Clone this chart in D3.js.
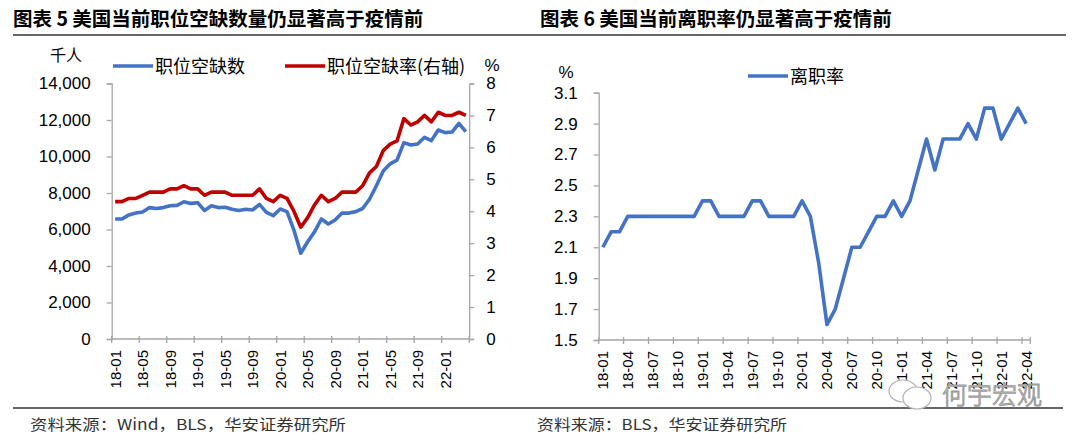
<!DOCTYPE html>
<html>
<head>
<meta charset="utf-8">
<script src="https://cdn.jsdelivr.net/npm/d3@7"></script>
<style>
  body { margin: 0; background: #fff; }
  svg { display: block; }
  .tick text { font-family: "Liberation Sans", Arial, sans-serif; fill: #000; }
</style>
</head>
<body>
<div class="chart"></div>
<script>
// months 18-01 .. 22-04
let months = [];
for (let y = 18; y <= 22; y++) {
    for (let m = 1; m <= 12; m++) {
        if (y == 22 && m > 4) break;
        months.push(y + "-" + String(m).padStart(2, "0"));
    }
}

// job openings, thousands (left axis)
const openings = [6575, 6575, 6800, 6900, 6960, 7200, 7150, 7200, 7300, 7320,
    7520, 7430, 7470, 7040, 7300, 7200, 7220, 7110, 7040, 7110,
    7070, 7380, 6940, 6760, 7120, 6980, 5970, 4700, 5330, 5870,
    6575, 6300, 6520, 6900, 6900, 6980, 7150, 7660, 8400, 9200,
    9600, 9800, 10760, 10630, 10680, 11050, 10870, 11450, 11310, 11340,
    11820, 11360];

// job openings rate, % (right axis)
const openingsRate = [4.3, 4.3, 4.4, 4.4, 4.5, 4.6, 4.6, 4.6, 4.7, 4.7,
    4.8, 4.7, 4.7, 4.5, 4.6, 4.6, 4.6, 4.5, 4.5, 4.5,
    4.5, 4.7, 4.4, 4.3, 4.5, 4.4, 4.0, 3.5, 3.8, 4.2,
    4.5, 4.3, 4.4, 4.6, 4.6, 4.6, 4.8, 5.2, 5.4, 5.9,
    6.1, 6.2, 6.9, 6.7, 6.8, 7.0, 6.8, 7.1, 7.0, 7.0,
    7.1, 7.0];

// quits rate, %
const quitsRate = [2.1, 2.2, 2.2, 2.3, 2.3, 2.3, 2.3, 2.3, 2.3, 2.3,
    2.3, 2.3, 2.4, 2.4, 2.3, 2.3, 2.3, 2.3, 2.4, 2.4,
    2.3, 2.3, 2.3, 2.3, 2.4, 2.3, 2.0, 1.6, 1.7, 1.9,
    2.1, 2.1, 2.2, 2.3, 2.3, 2.4, 2.3, 2.4, 2.6, 2.8,
    2.6, 2.8, 2.8, 2.8, 2.9, 2.8, 3.0, 3.0, 2.8, 2.9,
    3.0, 2.9];

const leftTicks = ["18-01", "18-05", "18-09", "19-01", "19-05", "19-09", "20-01",
    "20-05", "20-09", "21-01", "21-05", "21-09", "22-01"];
const rightTicks = ["18-01", "18-04", "18-07", "18-10", "19-01", "19-04", "19-07", "19-10",
    "20-01", "20-04", "20-07", "20-10", "21-01", "21-04", "21-07", "21-10", "22-01", "22-04"];

const openTicks = [0, 2000, 4000, 6000, 8000, 10000, 12000, 14000];
const rateTicks = [0, 1, 2, 3, 4, 5, 6, 7, 8];
const quitTicks = [1.5, 1.7, 1.9, 2.1, 2.3, 2.5, 2.7, 2.9, 3.1];

const BLUE = "#4472C4";
const RED = "#C00000";
const GREY = "#a6a6a6";
const CJK = '"Noto Sans CJK SC", sans-serif';
const NUM = '"Liberation Sans", Arial, sans-serif';

function styleAxis(g) {
    g.select(".domain").attr("stroke", GREY).attr("stroke-width", 1.3);
    g.selectAll(".tick line").attr("stroke", GREY).attr("stroke-width", 1.3);
}

// band axis: labels at category centres, tick marks on category borders
function bandAxis(svg, x, y0, labels, every) {
    const g = svg.append("g");
    g.append("line")
        .attr("x1", x.range()[0]).attr("x2", x.range()[1])
        .attr("y1", y0).attr("y2", y0)
        .attr("stroke", GREY).attr("stroke-width", 1.3);
    let borders = x.domain().filter((d, i) => i % every == 0).map(d => x(d));
    borders.push(x(x.domain()[x.domain().length - 1]) + x.bandwidth());
    g.selectAll(".bt")
        .data(borders)
        .enter()
        .append("line")
        .attr("x1", d => d).attr("x2", d => d)
        .attr("y1", y0 - 3).attr("y2", y0 + 4)
        .attr("stroke", GREY).attr("stroke-width", 1.3);
    g.selectAll("text")
        .data(labels)
        .enter()
        .append("text")
        .text(d => d)
        .attr("transform", d => "translate(" + (x(d) + x.bandwidth() / 2) + "," + (y0 + 11) + ") rotate(-90)")
        .attr("text-anchor", "end")
        .attr("dy", "0.36em")
        .attr("font-family", NUM)
        .attr("font-size", "15px")
        .attr("fill", "#000");
}

function drawLine(svg, x, y, values, color) {
    const line = d3.line()
        .x((d, i) => x(months[i]) + x.bandwidth() / 2)
        .y(d => y(d));
    svg.append("path")
        .datum(values)
        .attr("d", line)
        .attr("fill", "none")
        .attr("stroke", color)
        .attr("stroke-width", 3.6)
        .attr("stroke-linejoin", "round");
}

function legend(svg, x, y, label, color) {
    svg.append("line")
        .attr("x1", x).attr("x2", x + 40)
        .attr("y1", y).attr("y2", y)
        .attr("stroke", color).attr("stroke-width", 3.6);
    svg.append("text")
        .text(label)
        .attr("x", x + 42)
        .attr("y", y + 6.5)
        .attr("font-family", CJK)
        .attr("font-size", "18px")
        .attr("fill", "#000");
}

function main() {
    const width = 1080;
    const height = 442;
    const svg = d3.select(".chart")
        .append("svg")
        .attr("width", width)
        .attr("height", height);

    // titles + rules
    svg.append("text").text("图表 5 美国当前职位空缺数量仍显著高于疫情前")
        .attr("x", 13).attr("y", 26)
        .attr("font-family", CJK).attr("font-weight", 700).attr("font-size", "19.5px");
    svg.append("text").text("图表 6 美国当前离职率仍显著高于疫情前")
        .attr("x", 540).attr("y", 26)
        .attr("font-family", CJK).attr("font-weight", 700).attr("font-size", "19.5px");
    svg.append("line").attr("x1", 13).attr("x2", 1066).attr("y1", 35).attr("y2", 35)
        .attr("stroke", "#333").attr("stroke-width", 1.5);
    svg.append("line").attr("x1", 13).attr("x2", 1063).attr("y1", 408).attr("y2", 408)
        .attr("stroke", "#333").attr("stroke-width", 1.5);

    // ---------- left chart ----------
    const xL = d3.scaleBand().domain(months).range([111.7, 469.2]);
    const yL = d3.scaleLinear().domain([0, 14000]).range([339, 83.5]);
    const yR = d3.scaleLinear().domain([0, 8]).range([339, 83.5]);

    svg.append("g")
        .attr("transform", "translate(111.7,0)")
        .call(d3.axisLeft(yL).tickValues(openTicks).tickFormat(d3.format(",")).tickSize(5).tickPadding(16))
        .call(styleAxis)
        .selectAll("text").attr("font-size", "17px");

    svg.append("g")
        .attr("transform", "translate(469.2,0)")
        .call(d3.axisRight(yR).tickValues(rateTicks).tickSize(5).tickPadding(12))
        .call(styleAxis)
        .selectAll("text").attr("font-size", "17px");

    bandAxis(svg, xL, 339, leftTicks, 4);

    drawLine(svg, xL, yR, openingsRate, RED);
    drawLine(svg, xL, yL, openings, BLUE);

    svg.append("text").text("千人")
        .attr("x", 66).attr("y", 61).attr("text-anchor", "middle")
        .attr("font-family", CJK).attr("font-size", "16px");
    svg.append("text").text("%")
        .attr("x", 492).attr("y", 71).attr("text-anchor", "middle")
        .attr("font-family", NUM).attr("font-size", "17px");

    legend(svg, 113, 66, "职位空缺数", BLUE);
    legend(svg, 285, 66, "职位空缺率(右轴)", RED);

    // ---------- right chart ----------
    const xQ = d3.scaleBand().domain(months).range([598.7, 1030.3]);
    const yQ = d3.scaleLinear().domain([1.5, 3.1]).range([340, 92.7]);

    svg.append("g")
        .attr("transform", "translate(598.7,0)")
        .call(d3.axisLeft(yQ).tickValues(quitTicks).tickFormat(d3.format(".1f")).tickSize(5).tickPadding(16))
        .call(styleAxis)
        .selectAll("text").attr("font-size", "17px");

    bandAxis(svg, xQ, 340, rightTicks, 3);

    drawLine(svg, xQ, yQ, quitsRate, BLUE);

    svg.append("text").text("%")
        .attr("x", 566).attr("y", 78).attr("text-anchor", "middle")
        .attr("font-family", NUM).attr("font-size", "17px");

    legend(svg, 748, 76, "离职率", BLUE);

    // sources
    svg.append("text").text("资料来源：Wind，BLS，华安证券研究所")
        .attr("x", 30).attr("y", 430)
        .attr("textLength", 316).attr("lengthAdjust", "spacingAndGlyphs")
        .attr("font-family", CJK).attr("font-size", "15px").attr("fill", "#333");
    svg.append("text").text("资料来源：BLS，华安证券研究所")
        .attr("x", 537).attr("y", 430)
        .attr("textLength", 250).attr("lengthAdjust", "spacingAndGlyphs")
        .attr("font-family", CJK).attr("font-size", "15px").attr("fill", "#333");

    // watermark
    const wm = svg.append("g").attr("fill", "none").attr("stroke", "#b0b0b0").attr("stroke-width", 1.2);
    wm.append("ellipse").attr("cx", 903).attr("cy", 391).attr("rx", 14).attr("ry", 11).attr("fill", "#fff");
    wm.append("ellipse").attr("cx", 917).attr("cy", 398).attr("rx", 14).attr("ry", 11).attr("fill", "#fff");
    svg.append("text").text("何宇宏观")
        .attr("x", 942).attr("y", 404)
        .attr("font-family", CJK).attr("font-size", "25px").attr("font-weight", 300)
        .attr("fill", "#fff").attr("stroke", "#9a9a9a").attr("stroke-width", 1);
}

main();
</script>
</body>
</html>
